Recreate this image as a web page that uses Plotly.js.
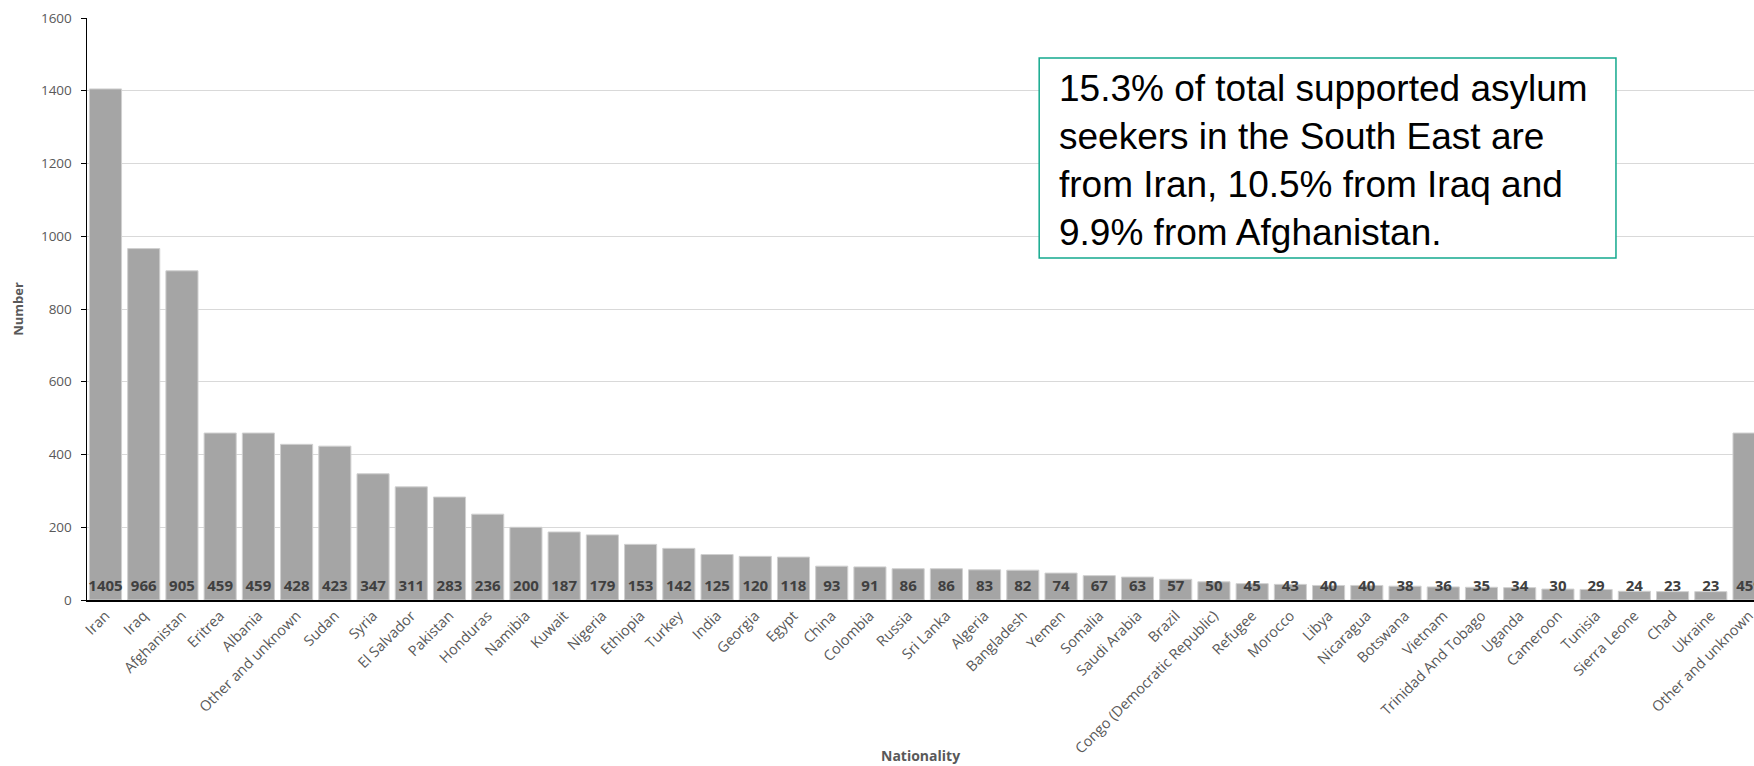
<!DOCTYPE html>
<html>
<head>
<meta charset="utf-8">
<script src="https://cdn.plot.ly/plotly-3.0.1.min.js"></script>
<style>html,body{margin:0;padding:0;background:#fff;}#chart{width:1754px;height:766px;}</style>
</head>
<body>
<div id="chart"></div>
<script>
const categories = ["Iran","Iraq","Afghanistan","Eritrea","Albania","Other and unknown","Sudan","Syria","El Salvador","Pakistan","Honduras","Namibia","Kuwait","Nigeria","Ethiopia","Turkey","India","Georgia","Egypt","China","Colombia","Russia","Sri Lanka","Algeria","Bangladesh","Yemen","Somalia","Saudi Arabia","Brazil","Congo (Democratic Republic)","Refugee","Morocco","Libya","Nicaragua","Botswana","Vietnam","Trinidad And Tobago","Uganda","Cameroon","Tunisia","Sierra Leone","Chad","Ukraine","Other and unknown"];
const values = [1405,966,905,459,459,428,423,347,311,283,236,200,187,179,153,142,125,120,118,93,91,86,86,83,82,74,67,63,57,50,45,43,40,40,38,36,35,34,30,29,24,23,23,459];
const yTicks = [0,200,400,600,800,1000,1200,1400,1600];
const noteText = "15.3% of total supported asylum<br>seekers in the South East are<br>from Iran, 10.5% from Iraq and<br>9.9% from Afghanistan.";

const idx = categories.map((_, i) => i);
const labelBase = 15; // value-label baseline, in axis units just above zero

const bars = {
  type: 'bar',
  x: idx,
  y: values,
  marker: {color: '#a5a5a5', line: {color: '#d0d0d0', width: 1}},
  hoverinfo: 'skip',
  cliponaxis: true
};
const labels = {
  type: 'scatter',
  mode: 'text',
  x: idx,
  y: values.map(() => labelBase),
  text: values.map(String),
  textposition: 'top center',
  textfont: {family: 'Open Sans', size: 15, color: '#404040', weight: 'bold'},
  cliponaxis: true,
  hoverinfo: 'skip'
};

const layout = {
  width: 1754, height: 766,
  margin: {l: 86.5, r: 0, t: 18, b: 166},
  paper_bgcolor: '#fff', plot_bgcolor: '#fff',
  showlegend: false,
  bargap: 0.16,
  font: {family: 'Open Sans', color: '#595959'},
  xaxis: {
    range: [-0.484, 43.13],
    tickmode: 'array', tickvals: idx, ticktext: categories,
    tickangle: -45,
    tickfont: {family: 'Open Sans', size: 14.5, color: '#595959'},
    ticklabeloverflow: 'allow',
    showgrid: false, zeroline: false,
    showline: true, linecolor: '#000', linewidth: 1.5,
    ticks: '', automargin: false
  },
  yaxis: {
    range: [0, 1600],
    tickmode: 'array', tickvals: yTicks,
    tickfont: {family: 'Open Sans', size: 13.5, color: '#595959'},
    showgrid: true, gridcolor: '#d9d9d9', gridwidth: 1,
    zeroline: false,
    showline: true, linecolor: '#000', linewidth: 1.5,
    ticks: 'outside', ticklen: 5, tickcolor: '#000',
    ticklabelstandoff: 6,
    automargin: false
  },
  shapes: [
    {type: 'rect', xref: 'paper', yref: 'paper', x0: 0.5712, x1: 0.9172, y0: 0.5876, y1: 0.9313,
     line: {color: '#14a98e', width: 1.5}, fillcolor: '#fff', layer: 'above'}
  ],
  annotations: [
    {
      text: noteText, xref: 'paper', yref: 'paper',
      x: 0.5820, y: 0.7543, xanchor: 'left', yanchor: 'middle',
      showarrow: false, align: 'left',
      font: {family: 'Liberation Sans', size: 37, color: '#000'}
    },
    {
      text: '<b>Nationality</b>', xref: 'paper', yref: 'paper',
      x: 0.5, y: -0.268, xanchor: 'center', yanchor: 'middle',
      showarrow: false, font: {family: 'Open Sans', size: 14, color: '#595959'}
    },
    {
      text: '<b>Number</b>', xref: 'paper', yref: 'paper',
      x: -0.0415, y: 0.5, xanchor: 'center', yanchor: 'middle', textangle: -90,
      showarrow: false, font: {family: 'Open Sans', size: 13, color: '#595959'}
    }
  ]
};

Plotly.newPlot('chart', [bars, labels], layout, {staticPlot: true, displayModeBar: false});
</script>
</body>
</html>
